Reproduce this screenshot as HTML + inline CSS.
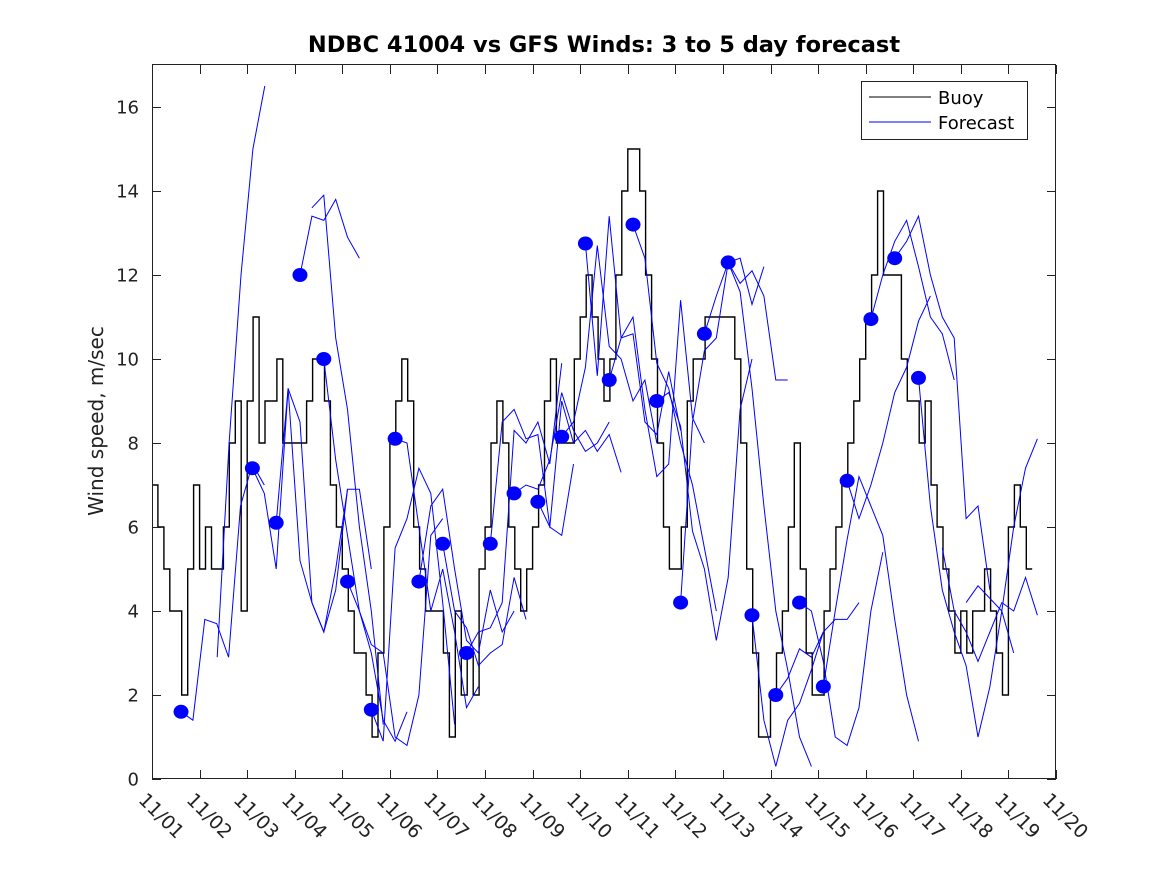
<!DOCTYPE html>
<html><head><meta charset="utf-8">
<style>
body{margin:0;background:#fff;}
svg text{font-family:"DejaVu Sans","Liberation Sans",sans-serif;}
</style></head>
<body>
<svg id="chart" width="1167" height="875" xmlns="http://www.w3.org/2000/svg">
<rect x="0" y="0" width="1167" height="875" fill="#fff"/>
<text x="604" y="52" text-anchor="middle" font-size="22.5" font-weight="bold" fill="#000">NDBC 41004 vs GFS Winds: 3 to 5 day forecast</text>
<text transform="translate(103,421) rotate(-90)" text-anchor="middle" font-size="20" fill="#222">Wind speed, m/sec</text>
<g id="plot"></g>
<rect x="152.5" y="64.5" width="903" height="714" fill="none" stroke="#222" stroke-width="1"/>
<g id="axes"></g>
<g>
<rect x="861.5" y="81.5" width="166" height="58" fill="#fff" stroke="#222"/>
<line x1="869" y1="97" x2="931" y2="97" stroke="#000"/>
<text x="938" y="104" font-size="18" fill="#000">Buoy</text>
<line x1="869" y1="122" x2="931" y2="122" stroke="#00f"/>
<text x="938" y="129" font-size="18" fill="#000">Forecast</text>
</g>
</svg>
<script>
const xTickLabels=["11/01","11/02","11/03","11/04","11/05","11/06","11/07","11/08","11/09","11/10","11/11","11/12","11/13","11/14","11/15","11/16","11/17","11/18","11/19","11/20"];
const yTicks=[0,2,4,6,8,10,12,14,16];
const buoyStepDays=0.125;
const buoy=[7,6,5,4,4,2,5,7, 5,6,5,5,6,8,9,4, 9,11,8,9,9,10,8,8, 8,8,9,10,10,9,7,6, 5,4,3,3,2,1,3,6,
8,9,10,9,6,5,4,4, 4,3,1,4,2,3,2,5, 6,8,9,8,6,5,4,5, 6,7,9,10,8,8,8,10, 11,12,11,10,9,10,12,14,
15,15,14,12,10,8,6,5, 5,6,9,10,10,11,11,11, 11,11,10,8,5,3,1,1, 2,3,4,6,8,5,3,2, 2,4,5,6,7,8,9,10,
11,12,14,12,12,12,10,9, 9,8,9,7,6,5,4,3, 4,3,4,4,5,4,3,2, 6,7,6,5];
const fcStepDays=0.25;
const fcStarts=[0.61,1.37,2.11,2.61,3.11,3.36,3.61,4.11,4.61,5.11,5.61,6.11,6.61,7.11,7.61,8.11,8.61,9.11,9.61,10.11,10.61,11.11,11.61,12.11,12.61,13.11,13.61,14.11,14.61,15.11,15.61,16.11,16.61,17.11];
const fcDots=[1,0,1,1,1,0,1,1,1,1,1,1,1,1,1,1,1,1,1,1,1,1,1,1,1,1,1,1,1,1,1,1,0,0];
const fcValues=[
[1.6,1.4,3.8,3.7,2.9,6.5,7.5,7.0],
[2.9,8,12,15,16.5],
[7.4,6.8,5.0,9.3,8.5,4.2,3.5,5.0,6.9],
[6.1,9.3,5.2,4.2,3.5,4.5,6.9,6.9,5.0],
[12.0,13.4,13.3,13.8,12.9,12.4],
[13.6,13.9,10.5,8.8,6.0,4.0,1.3],
[10,7.6,5.8,4.0,3.0,1.4,0.9,1.6],
[4.7,4.0,3.2,3.0,1.0,0.8,2.0,5.8,6.2],
[1.65,0.9,5.5,6.2,7.4,6.8,4.2,1.3],
[8.1,8.0,6.0,4.0,5.0,3.5,1.7,2.2],
[4.7,6.5,6.9,5.0,3.3,3.0,4.5,3.5,4.0],
[5.6,4.0,3.6,2.7,3.0,3.2,4.8,3.8],
[3.0,3.5,3.6,4.2,8.3,8.0,8.5,7.5,9.9],
[5.6,8.5,8.8,8.1,8.2,6.0,5.8,7.5],
[6.8,7.0,6.9,7.6,9.2,8.3,7.8,8.0,8.5],
[6.6,6.0,9.0,8.0,8.3,7.8,8.2,7.3],
[8.15,8.5,9.8,12.7,10.3,10.0,9.0,9.5,8.0],
[12.75,9.6,13.4,10.5,10.6,8.5,8.2,9.7,8.3],
[9.5,10.5,11.0,8.8,7.2,7.5,11.4,8.6,8.0],
[13.2,12.4,9.9,9.3,8.0,7.0,5.5,4.0],
[9.0,9.2,8.4,5.9,5.0,3.3,4.8,8.8,10.0],
[4.2,8.5,10.2,10.5,12.3,12.4,11.3,12.2],
[10.6,11.5,12.3,11.8,12.1,11.5,9.5,9.5],
[12.3,11.6,9.3,6.5,4.0,2.6,1.0,0.3],
[3.9,1.4,0.3,1.4,1.8,2.6,3.5],
[2.0,2.4,3.1,2.9,3.5,3.8,3.8,4.2],
[4.2,4.0,2.8,1.0,0.8,1.7,4.0,5.4],
[2.2,4.0,5.7,7.2,6.5,5.8,3.8,2.0,0.9],
[7.1,6.2,7.0,8.0,9.2,9.8,10.9,11.5],
[10.95,12.0,12.8,13.3,12.2,11.0,10.6,9.5],
[12.4,12.8,13.4,12.0,11.0,10.5,6.2,6.5,4.5],
[9.55,6.5,4.5,3.5,2.7,1.0,2.2,4.0,3.0],
[5.5,4.0,3.5,2.8,3.5,4.2,4.0,4.8,3.9],
[4.2,4.6,4.3,4.0,6.0,7.4,8.1]
];
const NS="http://www.w3.org/2000/svg";
const X0=152,X1=1056,Y0=779,Y1=65,DMAX=19,VMAX=17;
function xs(d){return X0+d*(X1-X0)/DMAX;}
function ys(v){return Y0-v*(Y0-Y1)/VMAX;}
function mk(tag,attrs,parent){const e=document.createElementNS(NS,tag);for(const k in attrs)e.setAttribute(k,attrs[k]);parent.appendChild(e);return e;}
const plot=document.getElementById('plot');
const axes=document.getElementById('axes');
let d="";
buoy.forEach((v,i)=>{const xa=xs(i*buoyStepDays),xb=xs((i+1)*buoyStepDays);d+=(i===0?"M":"L")+xa.toFixed(1)+","+ys(v).toFixed(1)+"L"+xb.toFixed(1)+","+ys(v).toFixed(1);});
const bl=mk('path',{d:d,fill:'none',stroke:'#000','stroke-width':1.4},plot);


fcValues.forEach((vals,s)=>{
  const pts=vals.map((v,i)=>xs(fcStarts[s]+i*fcStepDays).toFixed(1)+","+ys(v).toFixed(1)).join(" ");
  const pl=mk('polyline',{points:pts,fill:'none',stroke:'#00f','stroke-width':1},plot);
  
  
});
fcValues.forEach((vals,s)=>{
  if(!fcDots[s])return;
  const c=mk('ellipse',{cx:xs(fcStarts[s]),cy:ys(vals[0]),rx:7.5,ry:7,fill:'#00f'},plot);
  
  
});
yTicks.forEach(v=>{
  const y=Math.round(ys(v))+0.5;
  const t1=mk('line',{x1:X0,y1:y,x2:X0+9,y2:y,stroke:'#222'},axes);
  
  
  const t2=mk('line',{x1:X1-9,y1:y,x2:X1,y2:y,stroke:'#222'},axes);
  
  
  const tx=mk('text',{x:139,y:y+6,'text-anchor':'end','font-size':18,fill:'#222'},axes);
  tx.textContent=v;
  
  
});
xTickLabels.forEach((lab,i)=>{
  const x=Math.round(xs(i))+0.5;
  const t1=mk('line',{x1:x,y1:Y0,x2:x,y2:Y0-9,stroke:'#222'},axes);
  
  
  const t2=mk('line',{x1:x,y1:Y1,x2:x,y2:Y1+9,stroke:'#222'},axes);
  
  
  const tx=mk('text',{transform:'translate('+(x-15)+',801) rotate(45)','font-size':19,fill:'#222'},axes);
  tx.textContent=lab;
  
  
});
</script>
</body></html>
